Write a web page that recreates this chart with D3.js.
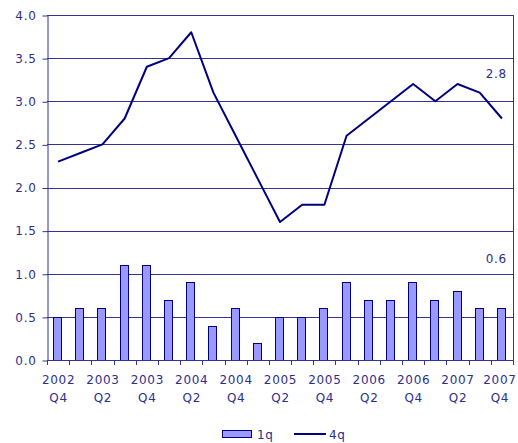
<!DOCTYPE html>
<html>
<head>
<meta charset="utf-8">
<script src="https://cdn.jsdelivr.net/npm/d3@7"></script>
<style>
  body { margin: 0; background: #fff; }
  text { font-family: "DejaVu Sans", Verdana, sans-serif; font-size: 12px; fill: #2e2e8c; letter-spacing: 0.7px; }
</style>
</head>
<body>
<svg></svg>
<script>
const years = ['2002','2003','2003','2003','2003','2004','2004','2004','2004','2005','2005','2005','2005','2006','2006','2006','2006','2007','2007','2007','2007']
const quarters = ['Q4','Q1','Q2','Q3','Q4','Q1','Q2','Q3','Q4','Q1','Q2','Q3','Q4','Q1','Q2','Q3','Q4','Q1','Q2','Q3','Q4']
const oneQ = [0.5, 0.6, 0.6, 1.1, 1.1, 0.7, 0.9, 0.4, 0.6, 0.2, 0.5, 0.5, 0.6, 0.9, 0.7, 0.7, 0.9, 0.7, 0.8, 0.6, 0.6]
const fourQ = [2.3, 2.4, 2.5, 2.8, 3.4, 3.5, 3.8, 3.1, 2.6, 2.1, 1.6, 1.8, 1.8, 2.6, 2.8, 3.0, 3.2, 3.0, 3.2, 3.1, 2.8]
const yTicks = [0, 0.5, 1.0, 1.5, 2.0, 2.5, 3.0, 3.5, 4.0]

const graphWidth = 518
const graphHeight = 443
const plotLeft = 47
const plotRight = 513
const plotTop = 15
const plotBottom = 360
const gridColor = '#333399'
const lineColor = '#000080'

const cats = years.map((y, i) => i)

const svg = d3.select('svg')
              .attr('width', graphWidth)
              .attr('height', graphHeight)

const xScale = d3.scaleBand()
                 .domain(cats)
                 .range([plotLeft, plotRight])

const yScale = d3.scaleLinear()
                 .domain([0, 4])
                 .range([plotBottom, plotTop])

const bw = xScale.bandwidth()
const cx = i => xScale(i) + bw / 2

// gridlines
svg.append('g')
   .selectAll('line')
   .data(yTicks.filter(d => d > 0))
   .join('line')
   .attr('x1', plotLeft)
   .attr('x2', plotRight)
   .attr('y1', d => Math.round(yScale(d)) + 0.5)
   .attr('y2', d => Math.round(yScale(d)) + 0.5)
   .attr('stroke', gridColor)

// right border
svg.append('line')
   .attr('x1', plotRight + 0.5).attr('x2', plotRight + 0.5)
   .attr('y1', Math.round(yScale(4)))
   .attr('y2', plotBottom)
   .attr('stroke', gridColor)

// bars
svg.append('g')
   .selectAll('rect')
   .data(oneQ)
   .join('rect')
   .attr('x', (d, i) => Math.round(cx(i) - 5) + 0.5)
   .attr('y', d => Math.round(yScale(d)) + 0.5)
   .attr('width', 8)
   .attr('height', d => plotBottom - Math.round(yScale(d)))
   .attr('fill', '#9999ff')
   .attr('stroke', lineColor)
   .attr('stroke-width', 1)

// line
const line = d3.line()
               .x((d, i) => cx(i))
               .y(d => yScale(d))

svg.append('path')
   .datum(fourQ)
   .attr('d', line)
   .attr('fill', 'none')
   .attr('stroke', lineColor)
   .attr('stroke-width', 2)
   .attr('stroke-linejoin', 'round')

// y axis
const yAxis = d3.axisLeft(yScale)
                .tickValues(yTicks)
                .tickFormat(d3.format('.1f'))
                .tickSize(5)
                .tickSizeOuter(0)
                .tickPadding(6)

const gy = svg.append('g')
   .attr('transform', `translate(${plotLeft + 0.5},0.5)`)
   .call(yAxis)
gy.select('.domain').attr('stroke', gridColor)
gy.selectAll('.tick line').attr('stroke', gridColor)
gy.selectAll('.tick text').attr('fill', '#2e2e8c').style('font-size', '12px').style('font-family', '"DejaVu Sans", Verdana, sans-serif')

// x axis baseline and ticks
const gx = svg.append('g')
gx.append('line')
  .attr('x1', plotLeft).attr('x2', plotRight + 1)
  .attr('y1', plotBottom + 0.5).attr('y2', plotBottom + 0.5)
  .attr('stroke', gridColor)
gx.selectAll('.xt')
  .data(cats.concat([cats.length]))
  .join('line')
  .attr('class', 'xt')
  .attr('x1', i => Math.round(plotLeft + i * bw) + 0.5)
  .attr('x2', i => Math.round(plotLeft + i * bw) + 0.5)
  .attr('y1', plotBottom)
  .attr('y2', plotBottom + 5)
  .attr('stroke', gridColor)

// last label is nudged left so it stays inside the frame
const labelX = i => i === cats.length - 1 ? cx(i) - 2 : cx(i) + 0.5
const labelCats = cats.filter(i => i % 2 === 0)
gx.selectAll('.yl')
  .data(labelCats)
  .join('text')
  .attr('class', 'yl')
  .attr('x', labelX)
  .attr('y', 384)
  .attr('text-anchor', 'middle')
  .text(i => years[i])
gx.selectAll('.ql')
  .data(labelCats)
  .join('text')
  .attr('class', 'ql')
  .attr('x', labelX)
  .attr('y', 402)
  .attr('text-anchor', 'middle')
  .text(i => quarters[i])

// last value labels
const last = cats.length - 1
svg.append('text')
   .attr('x', cx(last) + 5)
   .attr('y', yScale(fourQ[last]) - 41)
   .attr('text-anchor', 'end')
   .text(d3.format('.1f')(fourQ[last]))
svg.append('text')
   .attr('x', cx(last) + 5)
   .attr('y', yScale(oneQ[last]) - 45)
   .attr('text-anchor', 'end')
   .text(d3.format('.1f')(oneQ[last]))

// legend
const legend = svg.append('g')
legend.append('rect')
      .attr('x', 222.5).attr('y', 430.5)
      .attr('width', 29).attr('height', 7)
      .attr('fill', '#9999ff')
      .attr('stroke', lineColor)
legend.append('text')
      .attr('x', 257).attr('y', 438.5)
      .text('1q')
legend.append('line')
      .attr('x1', 294).attr('x2', 326)
      .attr('y1', 434).attr('y2', 434)
      .attr('stroke', lineColor)
      .attr('stroke-width', 2)
legend.append('text')
      .attr('x', 329).attr('y', 438.5)
      .text('4q')
</script>
</body>
</html>
